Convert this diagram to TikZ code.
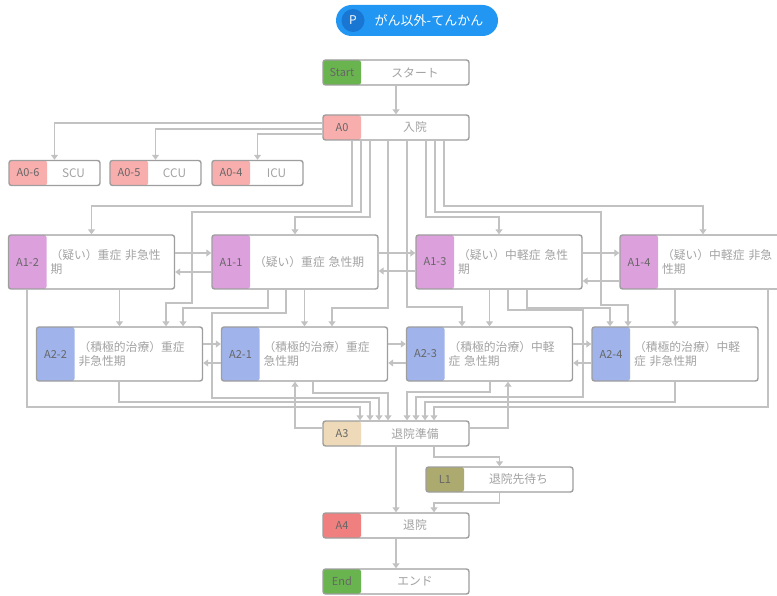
\documentclass[tikz,border=0pt]{standalone}
\usepackage{fontspec}
\setmainfont{Noto Sans CJK JP}
\usetikzlibrary{arrows.meta}

\definecolor{boxline}{HTML}{9E9E9E}
\definecolor{connline}{HTML}{C2C2C2}
\definecolor{tagink}{HTML}{666666}
\definecolor{bodyink}{HTML}{A3A3A3}
\definecolor{greentag}{HTML}{6AB450}
\definecolor{pinktag}{HTML}{F9AEAE}
\definecolor{plumtag}{HTML}{DCA0DC}
\definecolor{bluetag}{HTML}{A0B4EB}
\definecolor{beigetag}{HTML}{EEDAB9}
\definecolor{olivetag}{HTML}{ACAA6E}
\definecolor{coraltag}{HTML}{F08080}
\definecolor{badgeblue}{HTML}{2196F3}
\definecolor{badgedark}{HTML}{1976D2}

\tikzset{
  box/.style={draw=boxline, line width=1.4pt, rounded corners=2.5pt, fill=white, inner sep=0pt},
  tagfill/.style={path picture={\fill[#1] (path picture bounding box.north west) rectangle ([xshift=38pt]path picture bounding box.south west);}},
  tagtext/.style={text=tagink, font=\fontsize{11}{13}\selectfont, inner sep=0pt},
  bodytext/.style={text=bodyink, font=\fontsize{11.8}{13.3}\selectfont, inner sep=0pt},
  widetext/.style={bodytext, text width=120pt, align=left},
  conn/.style={draw=connline, line width=1.1pt, -{Triangle[width=7pt,length=5pt]}},
  badge/.style={fill=badgeblue, rounded corners=15.5pt, minimum width=162pt, minimum height=31pt, inner sep=0pt},
  badgedot/.style={circle, fill=badgedark, minimum size=23pt, inner sep=0pt, text=white, font=\fontsize{12}{14}\selectfont},
  badgetext/.style={text=white, font=\fontsize{13}{15}\selectfont, inner sep=0pt},
}

% name, centre x, centre y, width, height, tag colour, tag, text style, text
\newcommand\flowbox[9]{%
  \node[box, minimum width=#4pt, minimum height=#5pt, tagfill=#6] (#1) at (#2,#3) {};
  \node[tagtext] (#1-tag) at ({#2-#4/2+19},#3) {#7};
  \node[#8] (#1-txt) at ({#2+19},#3) {#9};
}

\begin{document}
\begin{tikzpicture}[x=1pt, y=-1pt]
\useasboundingbox (0,0) rectangle (777,596);
\clip (0,0) rectangle (777,596);

% title badge
\node[badge] (title) at (417,20.5) {};
\node[badgedot] (title-p) at (353,20.5) {P};
\node[badgetext] (title-txt) at (429,20.5) {がん以外-てんかん};

% small boxes
\flowbox{start}{396}{72.5}{146}{25}{greentag}{Start}{bodytext}{スタート}
\flowbox{a0}{396}{127.5}{146}{25}{pinktag}{A0}{bodytext}{入院}
\flowbox{a06}{54.5}{173}{91}{25}{pinktag}{A0-6}{bodytext}{SCU}
\flowbox{a05}{155.5}{173}{91}{25}{pinktag}{A0-5}{bodytext}{CCU}
\flowbox{a04}{257.5}{173}{91}{25}{pinktag}{A0-4}{bodytext}{ICU}

% first row
\flowbox{a12}{91.5}{262}{166}{54}{plumtag}{A1-2}{widetext}{（疑い）重症 非急性\\期}
\flowbox{a11}{295}{262}{166}{54}{plumtag}{A1-1}{widetext}{（疑い）重症 急性期}
\flowbox{a13}{499}{262}{166}{54}{plumtag}{A1-3}{widetext}{（疑い）中軽症 急性\\期}
\flowbox{a14}{703}{262}{166}{54}{plumtag}{A1-4}{widetext}{（疑い）中軽症 非急\\性期}

% second row
\flowbox{a22}{119.5}{354}{166}{54}{bluetag}{A2-2}{widetext}{（積極的治療）重症\\非急性期}
\flowbox{a21}{304.5}{354}{166}{54}{bluetag}{A2-1}{widetext}{（積極的治療）重症\\急性期}
\flowbox{a23}{489.5}{354}{166}{54}{bluetag}{A2-3}{widetext}{（積極的治療）中軽\\症 急性期}
\flowbox{a24}{675}{354}{166}{54}{bluetag}{A2-4}{widetext}{（積極的治療）中軽\\症 非急性期}

% discharge
\flowbox{a3}{396}{433.5}{146}{25}{beigetag}{A3}{bodytext}{退院準備}
\flowbox{l1}{499.5}{479.5}{147}{25}{olivetag}{L1}{bodytext}{退院先待ち}
\flowbox{a4}{396}{525.5}{146}{25}{coraltag}{A4}{bodytext}{退院}
\flowbox{end}{396}{581.5}{146}{25}{greentag}{End}{bodytext}{エンド}

% admission
\draw[conn] (start.south) -- (a0.north);
\draw[conn] (a0.west |- 0,123) -| (a06.north);
\draw[conn] (a0.west |- 0,129) -| (a05.north);
\draw[conn] (a0.west |- 0,134) -| (a04.north);

% admission to both rows
\draw[conn] (352,0 |- a0.south) |- (0,206 -| a12.north) -- (a12.north);
\draw[conn] (361,0 |- a0.south) |- (192,212) |- (166,303) -- (166,0 |- a22.north);
\draw[conn] (370,0 |- a0.south) |- (0,217 -| a11.north) -- (a11.north);
\draw[conn] (388,0 |- a0.south) |- (332,308) -- (332,0 |- a21.north);
\draw[conn] (407,0 |- a0.south) |- (462,307) -- (462,0 |- a23.north);
\draw[conn] (426,0 |- a0.south) |- (0,217 -| a13.north) -- (a13.north);
\draw[conn] (435,0 |- a0.south) |- (601,212) |- (628,305) -- (628,0 |- a24.north);
\draw[conn] (444,0 |- a0.south) |- (0,206 -| a14.north) -- (a14.north);

% first row, sideways
\draw[conn] (a12.east |- 0,253) -- (a11.west |- 0,253);
\draw[conn] (a11.west |- 0,272) -- (a12.east |- 0,272);
\draw[conn] (a11.east |- 0,253) -- (a13.west |- 0,253);
\draw[conn] (a13.west |- 0,271) -- (a11.east |- 0,271);
\draw[conn] (a13.east |- 0,253) -- (a14.west |- 0,253);
\draw[conn] (a14.west |- 0,281) -- (a13.east |- 0,281);

% first row, downwards
\draw[conn] (a22.north |- a12.south) -- (a22.north);
\draw[conn] (27,0 |- a12.south) |- (360,407) -- (360,0 |- a3.north);
\draw[conn] (268,0 |- a11.south) |- (183,308) -- (183,0 |- a22.north);
\draw[conn] (286,0 |- a11.south) |- (212,313) |- (379,398) -- (379,0 |- a3.north);
\draw[conn] (a21.north |- a11.south) -- (a21.north);
\draw[conn] (a23.north |- a13.south) -- (a23.north);
\draw[conn] (508,0 |- a13.south) |- (583,310) |- (416,397) -- (416,0 |- a3.north);
\draw[conn] (527,0 |- a13.south) |- (610,308) -- (610,0 |- a24.north);
\draw[conn] (a24.north |- a14.south) -- (a24.north);
\draw[conn] (768,0 |- a14.south) |- (434,407) -- (434,0 |- a3.north);

% second row, sideways
\draw[conn] (a22.east |- 0,344) -- (a21.west |- 0,344);
\draw[conn] (a21.west |- 0,363) -- (a22.east |- 0,363);
\draw[conn] (a21.east |- 0,344) -- (a23.west |- 0,344);
\draw[conn] (a23.west |- 0,363) -- (a21.east |- 0,363);
\draw[conn] (a23.east |- 0,344) -- (a24.west |- 0,344);
\draw[conn] (a24.west |- 0,363) -- (a23.east |- 0,363);

% second row, downwards
\draw[conn] (119,0 |- a22.south) |- (370,402) -- (370,0 |- a3.north);
\draw[conn] (313,0 |- a21.south) |- (388,393) -- (388,0 |- a3.north);
\draw[conn] (490,0 |- a23.south) |- (407,392) -- (407,0 |- a3.north);
\draw[conn] (675,0 |- a24.south) |- (425,402) -- (425,0 |- a3.north);

% discharge preparation
\draw[conn] (a3.west |- 0,428) -| (295,0 |- a21.south);
\draw[conn] (a3.east |- 0,428) -| (508,0 |- a23.south);
\draw[conn] (a3.south) -- (a4.north);
\draw[conn] (434,0 |- a3.south) |- (0,457 -| l1.north) -- (l1.north);
\draw[conn] (l1.south) |- (434,503) -- (434,0 |- a4.north);
\draw[conn] (a4.south) -- (end.north);
\end{tikzpicture}
\end{document}
